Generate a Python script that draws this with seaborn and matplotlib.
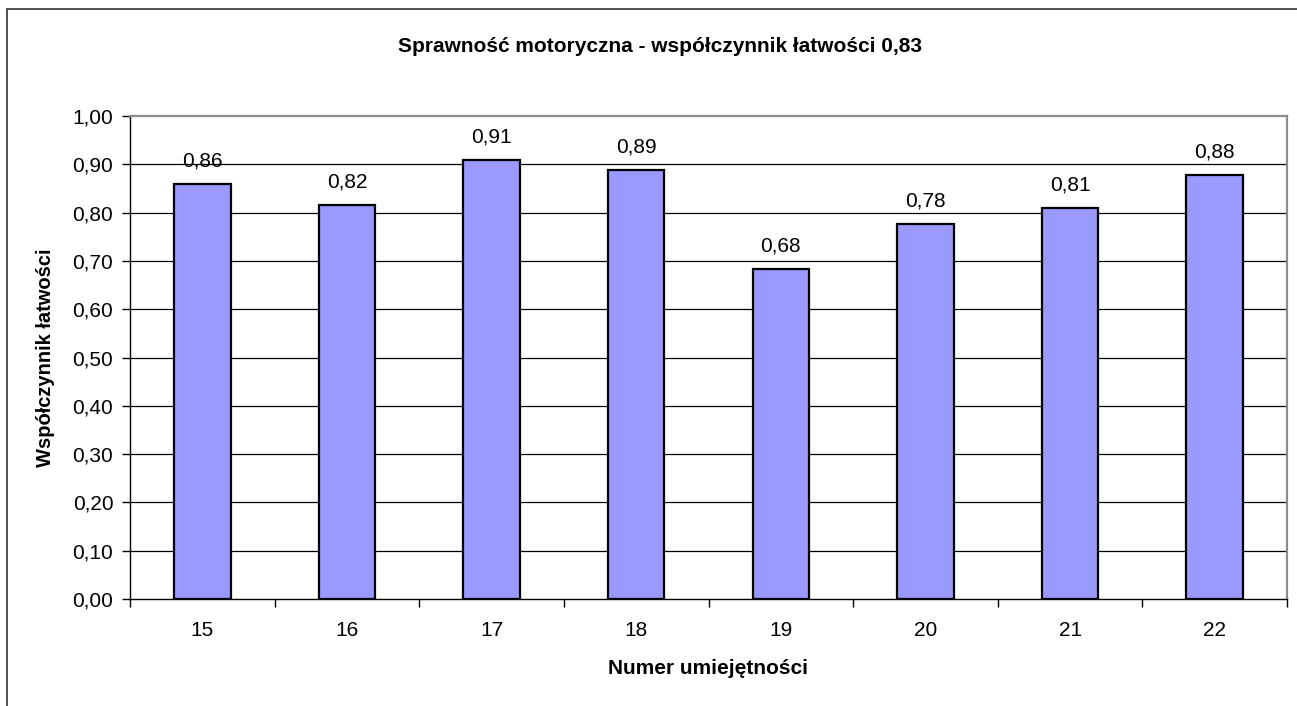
import matplotlib
matplotlib.use("Agg")
import matplotlib.pyplot as plt
import matplotlib.patches as mpatches
import seaborn as sns
import pandas as pd
import numpy as np

categories = ["15", "16", "17", "18", "19", "20", "21", "22"]
values = [0.86, 0.816, 0.908, 0.888, 0.683, 0.776, 0.81, 0.878]
labels = ["0,86", "0,82", "0,91", "0,89", "0,68", "0,78", "0,81", "0,88"]
yticks = [0.0, 0.1, 0.2, 0.3, 0.4, 0.5, 0.6, 0.7, 0.8, 0.9, 1.0]
title = "Sprawność motoryczna - współczynnik łatwości 0,83"
xlabel = "Numer umiejętności"
ylabel = "Współczynnik łatwości"

sns.set_style("white")
plt.rcParams['font.family'] = ['Liberation Sans', 'DejaVu Sans']
plt.rcParams['text.color'] = 'black'
plt.rcParams['axes.labelcolor'] = 'black'
plt.rcParams['xtick.color'] = 'black'
plt.rcParams['ytick.color'] = 'black'

W, H = 1297, 706
fig = plt.figure(figsize=(W / 100, H / 100), dpi=100)
ax = fig.add_axes([130 / W, (H - 599) / H, (1287 - 130) / W, (599 - 116) / H])

df = pd.DataFrame({"cat": categories, "val": values})
sns.barplot(data=df, x="cat", y="val", color="#9999FF", edgecolor="black",
            linewidth=1.6, width=0.39, saturation=1, ax=ax, zorder=3)

ax.set_xlim(-0.5, len(categories) - 0.5)
ax.set_ylim(0, 1.0)
ax.set_yticks(yticks)
ax.set_yticklabels([f"{t:.2f}".replace(".", ",") for t in yticks], fontsize=15)
for t in yticks[1:-1]:
    ax.axhline(t, color="black", linewidth=0.9, zorder=1)

ax.tick_params(axis="x", which="major", length=0, labelsize=15, pad=16, bottom=True)
ax.set_xticks(np.arange(-0.5, len(categories)), minor=True)
ax.tick_params(axis="x", which="minor", length=6, width=1, color="black",
               direction="out", bottom=True)
ax.tick_params(axis="y", which="major", length=6, width=1, color="black",
               direction="out", pad=6, left=True)

for s in ["left", "bottom"]:
    ax.spines[s].set_color("black")
    ax.spines[s].set_linewidth(1.0)
for s in ["top", "right"]:
    ax.spines[s].set_color("#8c8c8c")
    ax.spines[s].set_linewidth(1.6)

for i, (v, lab) in enumerate(zip(values, labels)):
    ax.text(i, v + 0.028, lab, ha="center", va="bottom", fontsize=15)

ax.set_xlabel(xlabel, fontsize=15, fontweight="bold")
ax.set_ylabel(ylabel, fontsize=14.5, fontweight="bold")
ax.xaxis.set_label_coords(0.5, -(669 - 599) / (599 - 116))
ax.yaxis.set_label_coords(-(130 - 46) / (1287 - 130), 0.5)
ax.xaxis.label.set_va("center")
ax.yaxis.label.set_va("center")
fig.text(660 / W, 1 - 47 / H, title, ha="center", va="center", fontsize=15, fontweight="bold")

rect = mpatches.Rectangle((7 / W, -0.05), 1.1, (H - 9) / H + 0.05, transform=fig.transFigure,
                          fill=False, edgecolor="#333333", linewidth=1.2, zorder=0)
fig.patches.append(rect)

fig.savefig("out.png", dpi=100)
